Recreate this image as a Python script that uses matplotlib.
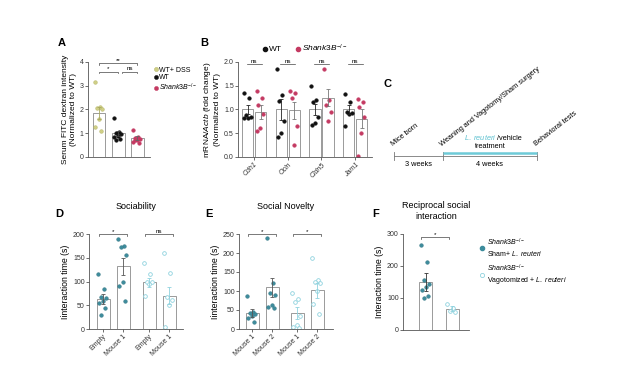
import matplotlib
matplotlib.use("Agg")
import matplotlib.pyplot as plt
from matplotlib.lines import Line2D
import numpy as np

plt.rcParams['font.family'] = ['Liberation Sans', 'DejaVu Sans']
plt.rcParams['mathtext.fontset'] = 'custom'
plt.rcParams['mathtext.it'] = 'Liberation Sans:italic'
plt.rcParams['mathtext.rm'] = 'Liberation Sans'

SHANK = r"$\it{Shank3B}^{-/-}$"
LREU = r"$\it{L.\ reuteri}$"

# ---- panel A: FITC dextran
a_groups = ["WT+ DSS", "WT", SHANK]
a_means = [1.85, 1.0, 0.8]
a_sems = [0.27, 0.1, 0.07]
a_points = [
    [3.15, 2.1, 2.08, 2.0, 1.6, 1.25, 1.1],
    [1.65, 1.05, 1.0, 0.95, 0.9, 0.85, 0.75, 0.7],
    [1.15, 0.85, 0.8, 0.75, 0.7, 0.65, 0.6, 0.72],
]

# ---- panel B: qPCR
b_genes = ["Cdh1", "Ocln", "Cldn5", "Jam1"]
b_wt_mean = [1.0, 1.0, 1.0, 1.0]
b_wt_sem = [0.1, 0.22, 0.12, 0.1]
b_sh_mean = [0.95, 0.98, 1.25, 0.8]
b_sh_sem = [0.15, 0.18, 0.18, 0.2]
b_wt_pts = [
    [1.35, 1.25, 0.88, 0.85, 0.83, 0.82],
    [1.85, 1.3, 1.18, 0.75, 0.5, 0.42],
    [1.5, 1.2, 1.15, 0.85, 0.72, 0.68],
    [1.32, 1.15, 0.95, 0.92, 0.9, 0.65],
]
b_sh_pts = [
    [1.4, 1.25, 1.1, 0.9, 0.6, 0.55],
    [1.4, 1.35, 1.25, 0.65, 0.25],
    [1.85, 1.2, 1.1, 0.95, 0.75],
    [1.22, 1.15, 1.05, 0.85, 0.5, 0.02],
]

# ---- panel D: sociability
d_labels = ["Empty", "Mouse 1", "Empty", "Mouse 1"]
d_means = [63, 132, 98, 70]
d_sems = [10, 18, 10, 18]
d_points = [
    [115, 85, 68, 65, 60, 55, 45, 30],
    [190, 175, 172, 155, 100, 90, 58],
    [140, 115, 100, 98, 95, 70],
    [160, 118, 68, 62, 50, 5],
]

# ---- panel E: social novelty
e_labels = ["Mouse 1", "Mouse 2", "Mouse 1", "Mouse 2"]
e_means = [42, 110, 42, 102]
e_sems = [10, 25, 15, 20]
e_points = [
    [88, 45, 42, 40, 35, 30, 18],
    [240, 120, 95, 90, 62, 58, 55],
    [95, 80, 72, 35, 10, 5, 2],
    [188, 130, 125, 120, 100, 65, 40],
]

# ---- panel F: reciprocal social interaction
f_means = [150, 67]
f_sems = [28, 8]
f_points = [
    [265, 212, 155, 145, 135, 125, 105, 100],
    [82, 70, 60, 55],
]

DSS_C = '#cfcf86'
WT_C = '#111111'
SH_C = '#c43a62'
TEAL = '#3d8c9c'
CYAN = '#8fd2de'
BAR_EDGE = '#8a8a8a'

W, H = 632, 368
fig = plt.figure(figsize=(W / 100, H / 100), dpi=100)
fig.patch.set_facecolor('white')


def box(l, t, r, b):
    return [l / W, 1 - b / H, (r - l) / W, (b - t) / H]


def style(ax):
    for s in ['top', 'right']:
        ax.spines[s].set_visible(False)
    for s in ['left', 'bottom']:
        ax.spines[s].set_color('#555555')
        ax.spines[s].set_linewidth(0.6)
    ax.tick_params(labelsize=5, length=2, width=0.5, colors='#333333', pad=1)


def jitter(n, width):
    # deterministic spread of points across the bar
    return np.array([((i * 0.618) % 1 - 0.5) * width for i in range(n)])


def bar_group(ax, x, mean, sem, pts, width, face, edge, ecol, hollow=False):
    ax.bar(x, mean, width, color='white', edgecolor=BAR_EDGE, linewidth=0.6, zorder=1)
    ax.errorbar(x, mean, yerr=sem, color=ecol, lw=0.6, capsize=1.5, capthick=0.6, zorder=3)
    xs = x + jitter(len(pts), width * 0.7)
    if hollow:
        ax.scatter(xs, pts, s=7, facecolor='white', edgecolor=edge, linewidth=0.6, zorder=2)
    else:
        ax.scatter(xs, pts, s=7, color=face, edgecolor=edge, linewidth=0.3, zorder=2)


def sig(ax, x1, x2, y, txt, dy):
    ax.plot([x1, x1, x2, x2], [y - dy, y, y, y - dy], color='#444444', lw=0.5, clip_on=False)
    ax.text((x1 + x2) / 2, y, txt, ha='center', va='bottom', fontsize=4.5, clip_on=False)


# ================= A
axA = fig.add_axes(box(88, 62, 150, 157))
style(axA)
a_x = np.arange(3)
a_cols = [DSS_C, WT_C, SH_C]
a_edges = ['#b0b060', WT_C, SH_C]
a_ecols = ['#a8a860', '#444444', '#666666']
for i in range(3):
    bar_group(axA, a_x[i], a_means[i], a_sems[i], a_points[i], 0.68, a_cols[i], a_edges[i], a_ecols[i])
axA.set_xlim(-0.58, 2.68)
axA.set_ylim(0, 4)
axA.set_yticks([0, 1, 2, 3, 4])
axA.set_xticks([])
axA.set_ylabel("Serum FITC dextran intensity\n(Normalized to WT)", fontsize=6, labelpad=2)
sig(axA, 0, 2, 3.95, "**", 0.08)
sig(axA, 0, 1, 3.6, "*", 0.08)
sig(axA, 1.2, 2, 3.6, "ns", 0.08)
handles = [Line2D([], [], marker='o', ls='', ms=3, color=c, markeredgecolor=e, markeredgewidth=0.3)
           for c, e in zip(a_cols, a_edges)]
axA.legend(handles, a_groups, loc='upper left', bbox_to_anchor=(1.0, 0.98), frameon=False,
           fontsize=5, handletextpad=0.1, labelspacing=0.1, borderaxespad=0, handlelength=0.8)

# ================= B
axB = fig.add_axes(box(238, 62, 372, 157))
style(axB)
b_x = np.arange(len(b_genes))
for i in range(len(b_genes)):
    bar_group(axB, b_x[i] - 0.19, b_wt_mean[i], b_wt_sem[i], b_wt_pts[i], 0.34, WT_C, WT_C, '#222222')
    bar_group(axB, b_x[i] + 0.19, b_sh_mean[i], b_sh_sem[i], b_sh_pts[i], 0.34, SH_C, SH_C, '#777777')
    sig(axB, b_x[i] - 0.22, b_x[i] + 0.22, 1.96, "ns", 0.0)
axB.set_xlim(-0.48, 3.5)
axB.set_ylim(0, 2.0)
axB.set_yticks([0, 0.5, 1.0, 1.5, 2.0])
axB.set_yticklabels(["0.0", "0.5", "1.0", "1.5", "2.0"])
axB.set_xticks(b_x)
axB.set_xticklabels(b_genes, rotation=45, ha='right', fontstyle='italic', rotation_mode='anchor')
axB.set_ylabel("mRNA/" + r"$\it{Actb}$" + " (fold change)\n(Normalized to WT)", fontsize=6, labelpad=2)
hb = [Line2D([], [], marker='o', ls='', ms=3, color=WT_C),
      Line2D([], [], marker='o', ls='', ms=3, color=SH_C)]
axB.legend(hb, ["WT", SHANK], loc='lower center', bbox_to_anchor=(0.5, 1.05), ncol=2, frameon=False,
           fontsize=6, handletextpad=0.1, columnspacing=1.5, borderaxespad=0, handlelength=0.8)

# ================= C timeline
axC = fig.add_axes(box(380, 60, 600, 175))
axC.axis('off')
axC.set_xlim(380, 600)
axC.set_ylim(175, 60)
t_pos = [394, 443, 537]
t_events = ["Mice born", "Weaning and Vagotomy/Sham surgery", "Behavioral tests"]
t_spans = ["3 weeks", "4 weeks"]
axC.plot([t_pos[0], t_pos[-1]], [156, 156], color='#777777', lw=0.6)
for x, ev in zip(t_pos, t_events):
    axC.plot([x, x], [152, 160], color='#777777', lw=0.6)
    axC.text(x, 148, ev, rotation=38, fontsize=5.3, ha='left', va='bottom', rotation_mode='anchor')
axC.plot([t_pos[1], t_pos[2]], [152.5, 152.5], color='#6ecbd8', lw=1.8, solid_capstyle='butt')
for i, s in enumerate(t_spans):
    axC.text((t_pos[i] + t_pos[i + 1]) / 2, 161, s, ha='center', va='top', fontsize=5.3)
mid = (t_pos[1] + t_pos[2]) / 2
axC.text(mid + 7, 142, "/vehicle", ha='left', va='bottom', fontsize=5.3)
axC.text(mid + 7, 142, LREU, ha='right', va='bottom', fontsize=5.3, color='#5bc0cf')
axC.text(mid, 143, "treatment", ha='center', va='top', fontsize=5.3)


# ================= D / E helper
def behaviour(ax, means, sems, pts, labels, xs, ylim, yticks, title, marks):
    style(ax)
    for i in range(4):
        hollow = i >= 2
        bar_group(ax, xs[i], means[i], sems[i], pts[i], 0.65, TEAL,
                  CYAN if hollow else '#2f7180', CYAN if hollow else '#555555', hollow=hollow)
    ax.set_ylim(*ylim)
    ax.set_yticks(yticks)
    ax.set_xticks(xs)
    ax.set_xticklabels(labels, rotation=45, ha='right', rotation_mode='anchor')
    ax.set_ylabel("Iinteraction time (s)", fontsize=6.3, labelpad=2)
    ax.set_title(title, fontsize=6.5, pad=18)
    sig(ax, xs[0] - 0.2, xs[1] + 0.2, ylim[1], marks[0], ylim[1] * 0.02)
    sig(ax, xs[2] - 0.2, xs[3] + 0.2, ylim[1], marks[1], ylim[1] * 0.02)


xs4 = np.array([0, 1, 2.3, 3.3])
axD = fig.add_axes(box(89, 234, 183, 329))
behaviour(axD, d_means, d_sems, d_points, d_labels, xs4, (0, 200), [0, 50, 100, 150, 200],
          "Sociability", ["*", "ns"])
axD.set_xlim(-0.7, 4.0)

xs4e = np.array([0, 1, 2.25, 3.25])
axE = fig.add_axes(box(239, 234, 333, 329))
behaviour(axE, e_means, e_sems, e_points, e_labels, xs4e, (0, 250), [0, 50, 100, 150, 200, 250],
          "Social Novelty", ["*", "*"])
axE.set_xlim(-0.65, 4.05)

# ================= F
axF = fig.add_axes(box(403, 234, 469, 330))
style(axF)
bar_group(axF, 0, f_means[0], f_sems[0], f_points[0], 0.5, TEAL, '#2f7180', '#333333')
bar_group(axF, 1, f_means[1], f_sems[1], f_points[1], 0.5, TEAL, CYAN, CYAN, hollow=True)
axF.set_xlim(-0.88, 1.65)
axF.set_ylim(0, 300)
axF.set_yticks([0, 100, 200, 300])
axF.set_xticks([])
axF.set_ylabel("Interaction time (s)", fontsize=6.3, labelpad=2)
axF.set_title("Reciprocal social\ninteraction", fontsize=6.5, pad=11)
sig(axF, -0.2, 0.9, 290, "*", 5)
hf = [Line2D([], [], marker='o', ls='', ms=3, color=TEAL),
      Line2D([], [], marker='o', ls='', ms=3, markerfacecolor='white', markeredgecolor=CYAN, markeredgewidth=0.6)]
axF.legend(hf, [SHANK + "\nSham+ " + LREU, SHANK + "\nVagotomized + " + LREU],
           loc='upper left', bbox_to_anchor=(1.12, 1.0), frameon=False, fontsize=5,
           handletextpad=0.3, labelspacing=0.6, borderaxespad=0, handlelength=0.8)

# panel letters
for lab, x, y in [("A", 58, 43), ("B", 200, 43), ("C", 384, 84), ("D", 55, 214), ("E", 205, 214), ("F", 372, 214)]:
    fig.text(x / W, 1 - y / H, lab, fontsize=8, fontweight='bold', ha='left', va='center')

fig.savefig("out.png", dpi=100)
